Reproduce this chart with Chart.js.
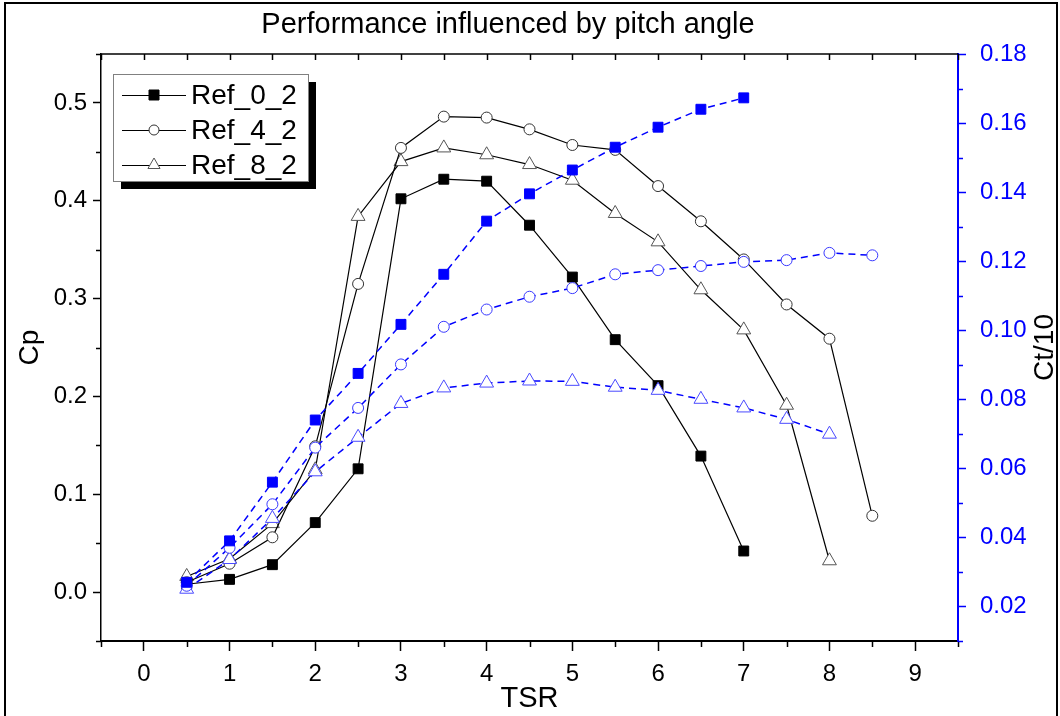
<!DOCTYPE html>
<html>
<head>
<meta charset="utf-8">
<script src="https://cdn.jsdelivr.net/npm/chart.js@4.4.1/dist/chart.umd.min.js"></script>
<style>
  html, body { margin: 0; padding: 0; background: #fff; }
  #wrap { width: 1060px; height: 716px; }
</style>
</head>
<body>
<div id="wrap"><canvas id="chart" width="1060" height="716"></canvas></div>
<script>
// TSR values for each configuration
const tsr0 = [0.5, 1, 1.5, 2, 2.5, 3, 3.5, 4, 4.5, 5, 5.5, 6, 6.5, 7];
const tsr4 = [0.5, 1, 1.5, 2, 2.5, 3, 3.5, 4, 4.5, 5, 5.5, 6, 6.5, 7, 7.5, 8, 8.5];
const tsr8 = [0.5, 1, 1.5, 2, 2.5, 3, 3.5, 4, 4.5, 5, 5.5, 6, 6.5, 7, 7.5, 8];

// power coefficient (left axis)
const cp0 = [0.008, 0.013, 0.028, 0.071, 0.126, 0.402, 0.422, 0.420, 0.375, 0.322, 0.258, 0.211, 0.139, 0.042];
const cp4 = [0.010, 0.029, 0.056, 0.149, 0.315, 0.454, 0.486, 0.485, 0.473, 0.457, 0.452, 0.415, 0.379, 0.340, 0.294, 0.259, 0.078];
const cp8 = [0.016, 0.034, 0.070, 0.125, 0.384, 0.440, 0.454, 0.447, 0.437, 0.421, 0.387, 0.358, 0.309, 0.268, 0.191, 0.032];

// thrust coefficient / 10 (right axis)
const ct0 = [0.027, 0.039, 0.056, 0.074, 0.0875, 0.1017, 0.1162, 0.1316, 0.1395, 0.1464, 0.153, 0.1588, 0.164, 0.1673];
const ct4 = [0.026, 0.037, 0.0496, 0.066, 0.0775, 0.0901, 0.101, 0.106, 0.1097, 0.1122, 0.1162, 0.1174, 0.1186, 0.1198, 0.1203, 0.1224, 0.1217];
const ct8 = [0.025, 0.0336, 0.0455, 0.059, 0.069, 0.0788, 0.0833, 0.0847, 0.0853, 0.0852, 0.0835, 0.0826, 0.080, 0.0775, 0.0742, 0.0699];

const seriesNames = ["Ref_0_2", "Ref_4_2", "Ref_8_2"];
const chartTitle = "Performance influenced by pitch angle";

const FONT = "'Liberation Sans', Arial, sans-serif";
const BLUE = "#0000ff";

const pts = (xs, ys) => xs.map((x, i) => ({ x: x, y: ys[i] }));
const isMajor = (v, k) => Math.abs(v * k - Math.round(v * k)) < 1e-6;

function ctSet(label, xs, ys, style, bg, edge) {
  return {
    label: label, data: pts(xs, ys), yAxisID: "y1", showLine: true,
    borderColor: BLUE, borderWidth: 1.5, borderDash: [7, 5],
    pointStyle: style, pointRadius: style === "circle" ? 5.5 : (style === "rect" ? 7 : 8),
    pointBackgroundColor: bg, pointBorderColor: edge, pointBorderWidth: 1
  };
}
function cpSet(label, xs, ys, style, bg, edge) {
  return {
    label: label, data: pts(xs, ys), yAxisID: "y", showLine: true,
    borderColor: "#000", borderWidth: 1.2,
    pointStyle: style, pointRadius: style === "circle" ? 5.5 : (style === "rect" ? 7 : 8),
    pointBackgroundColor: bg, pointBorderColor: edge, pointBorderWidth: 1
  };
}

function mark(ctx, style, x, y, r, fill, edge) {
  ctx.beginPath();
  if (style === "rect") {
    ctx.rect(x - r, y - r, 2 * r, 2 * r);
  } else if (style === "circle") {
    ctx.arc(x, y, r, 0, Math.PI * 2);
  } else {
    ctx.moveTo(x, y - r);
    ctx.lineTo(x + r * 0.866, y + r * 0.5);
    ctx.lineTo(x - r * 0.866, y + r * 0.5);
    ctx.closePath();
  }
  ctx.fillStyle = fill; ctx.fill();
  ctx.strokeStyle = edge; ctx.lineWidth = 1; ctx.stroke();
}

function seg(ctx, x1, y1, x2, y2) {
  ctx.beginPath(); ctx.moveTo(x1, y1); ctx.lineTo(x2, y2); ctx.stroke();
}

const frame = {
  id: "frame",
  beforeDraw(chart) {
    const ctx = chart.ctx;
    ctx.save();
    ctx.fillStyle = "#fff";
    ctx.fillRect(0, 0, chart.width, chart.height);
    ctx.strokeStyle = "#000"; ctx.lineWidth = 2;
    ctx.strokeRect(5, 3, chart.width - 8, chart.height + 10);
    // title
    ctx.fillStyle = "#000";
    ctx.font = "29px " + FONT;
    ctx.textAlign = "center"; ctx.textBaseline = "middle";
    ctx.fillText(chartTitle, 508, 25);
    ctx.restore();
  }
};

const axisTicks = {
  id: "axisTicks",
  afterDraw(chart) {
    const { ctx, chartArea: a, scales } = chart;
    ctx.save();
    ctx.strokeStyle = "#000"; ctx.lineWidth = 1.5;
    seg(ctx, a.left, a.top, a.right, a.top);
    scales.x.ticks.forEach(t => {
      const px = Math.round(scales.x.getPixelForValue(t.value)) + 0.5;
      if (!isMajor(t.value, 1)) seg(ctx, px, a.bottom, px, a.bottom + 6);
      seg(ctx, px, a.top, px, a.top + 6);
    });
    scales.y.ticks.forEach(t => {
      const py = Math.round(scales.y.getPixelForValue(t.value)) + 0.5;
      if (!isMajor(t.value, 10)) seg(ctx, a.left, py, a.left - 5, py);
    });
    ctx.strokeStyle = BLUE;
    scales.y1.ticks.forEach(t => {
      const py = Math.round(scales.y1.getPixelForValue(t.value)) + 0.5;
      if (!isMajor(t.value, 50)) seg(ctx, a.right, py, a.right + 5, py);
    });
    // right axis title, reading upward like the left one
    ctx.translate(1045, (a.top + a.bottom) / 2);
    ctx.rotate(-Math.PI / 2);
    ctx.fillStyle = "#000";
    ctx.font = "28px " + FONT;
    ctx.textAlign = "center"; ctx.textBaseline = "middle";
    ctx.fillText("Ct/10", 0, 0);
    ctx.restore();
  }
};

const boxLegend = {
  id: "boxLegend",
  afterDraw(chart) {
    const ctx = chart.ctx;
    const bx = 113, by = 74, bw = 195, bh = 107;
    ctx.save();
    ctx.fillStyle = "#000";
    ctx.fillRect(bx + 8, by + 8, bw, bh);
    ctx.fillStyle = "#fff";
    ctx.fillRect(bx, by, bw, bh);
    ctx.strokeStyle = "#808080"; ctx.lineWidth = 1;
    ctx.strokeRect(bx + 0.5, by + 0.5, bw, bh);
    const styles = [["rect", 5, "#000", "#000"], ["circle", 5, "#fff", "#333"], ["triangle", 7, "#fff", "#555"]];
    ctx.font = "28px " + FONT;
    ctx.textBaseline = "middle";
    seriesNames.forEach((name, i) => {
      const cy = 95 + i * 35;
      ctx.strokeStyle = "#000"; ctx.lineWidth = 1;
      seg(ctx, 122, cy + 0.5, 186, cy + 0.5);
      const s = styles[i];
      mark(ctx, s[0], 154, cy, s[1], s[2], s[3]);
      ctx.fillStyle = "#000";
      ctx.fillText(name, 191, cy + 1);
    });
    ctx.restore();
  }
};

new Chart(document.getElementById("chart"), {
  type: "scatter",
  data: {
    datasets: [
      ctSet(seriesNames[0], tsr0, ct0, "rect", BLUE, BLUE),
      ctSet(seriesNames[1], tsr4, ct4, "circle", "#fff", "#3a3aff"),
      ctSet(seriesNames[2], tsr8, ct8, "triangle", "#fff", "#4a4aff"),
      cpSet(seriesNames[0], tsr0, cp0, "rect", "#000", "#000"),
      cpSet(seriesNames[1], tsr4, cp4, "circle", "#fff", "#333"),
      cpSet(seriesNames[2], tsr8, cp8, "triangle", "#fff", "#555")
    ]
  },
  options: {
    responsive: false,
    animation: false,
    devicePixelRatio: 1,
    layout: { padding: { top: 54, left: 0, right: 0, bottom: 0 } },
    plugins: {
      legend: { display: false },
      tooltip: { enabled: false },
      title: { display: false }
    },
    scales: {
      x: {
        type: "linear", position: "bottom", min: -0.5, max: 9.5,
        afterFit: s => { s.height = 75; },
        ticks: {
          stepSize: 0.5, autoSkip: false, maxRotation: 0, padding: 9, color: "#000",
          font: { family: FONT, size: 24 },
          callback: v => isMajor(v, 1) ? String(Math.round(v)) : ""
        },
        grid: {
          drawOnChartArea: false, drawTicks: true, tickLength: 10, tickWidth: 1.5,
          tickColor: c => (c.tick && isMajor(c.tick.value, 1)) ? "#000" : "rgba(0,0,0,0)"
        },
        border: { color: "#000", width: 2 },
        title: { display: true, text: "TSR", color: "#000", font: { family: FONT, size: 29, lineHeight: 1.2 }, padding: { top: 0, bottom: 0 } }
      },
      y: {
        type: "linear", position: "left", min: -0.05, max: 0.55,
        afterFit: s => { s.width = 101; },
        ticks: {
          stepSize: 0.05, autoSkip: false, padding: 6, color: "#000",
          font: { family: FONT, size: 24 },
          callback: v => isMajor(v, 10) ? v.toFixed(1) : ""
        },
        grid: {
          drawOnChartArea: false, drawTicks: true, tickLength: 8, tickWidth: 1.5,
          tickColor: c => (c.tick && isMajor(c.tick.value, 10)) ? "#000" : "rgba(0,0,0,0)"
        },
        border: { color: "#000", width: 1.5 },
        title: { display: true, text: "Cp", color: "#000", font: { family: FONT, size: 28, lineHeight: 1.2 }, padding: { top: 13, bottom: 0 } }
      },
      y1: {
        type: "linear", position: "right", min: 0.01, max: 0.18,
        afterFit: s => { s.width = 102; },
        ticks: {
          stepSize: 0.01, autoSkip: false, padding: 14, color: BLUE,
          font: { family: FONT, size: 24 },
          callback: v => isMajor(v, 50) ? v.toFixed(2) : ""
        },
        grid: {
          drawOnChartArea: false, drawTicks: true, tickLength: 8, tickWidth: 1.5,
          tickColor: c => (c.tick && isMajor(c.tick.value, 50)) ? BLUE : "rgba(0,0,0,0)"
        },
        border: { color: BLUE, width: 2 },
        title: { display: false }
      }
    }
  },
  plugins: [frame, axisTicks, boxLegend]
});
</script>
</body>
</html>
